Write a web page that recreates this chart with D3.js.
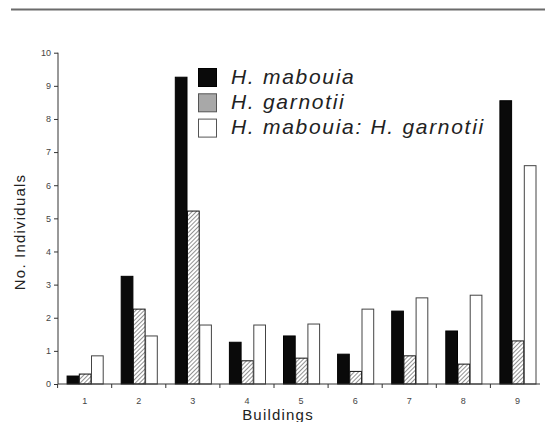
<!DOCTYPE html>
<html><head><meta charset="utf-8">
<script src="https://cdn.jsdelivr.net/npm/d3@7"></script>
<style>body{margin:0;background:#fff}svg{display:block}</style>
</head><body><svg id="c" width="545" height="422"></svg>
<script>
const buildings = ["1","2","3","4","5","6","7","8","9"];
const seriesNames = ["H. mabouia","H. garnotii","H. mabouia: H. garnotii"];
const mabouia = [0.24,3.25,9.26,1.26,1.45,0.90,2.20,1.60,8.55];
const garnotii = [0.30,2.26,5.22,0.70,0.78,0.38,0.85,0.60,1.30];
const ratio = [0.85,1.45,1.78,1.78,1.81,2.26,2.60,2.68,6.59];
const yTicks = [0,1,2,3,4,5,6,7,8,9,10];

const svg = d3.select("#c");
const font = "'Liberation Sans', Arial, sans-serif";
const defs = svg.append("defs");
const pat = defs.append("pattern").attr("id","hatch").attr("patternUnits","userSpaceOnUse")
  .attr("width",3).attr("height",3).attr("patternTransform","rotate(45)");
pat.append("rect").attr("width",3).attr("height",3).attr("fill","#fff");
pat.append("line").attr("x1",0).attr("y1",0).attr("x2",0).attr("y2",3).attr("stroke","#555").attr("stroke-width",1.3);

// top rule
svg.append("line").attr("x1",11).attr("x2",545).attr("y1",9.5).attr("y2",9.5).attr("stroke","#6b6b6b").attr("stroke-width",2);

const x0 = d3.scaleBand().domain(buildings).range([57.6,544.5]).paddingInner(0).paddingOuter(0);
const x1 = d3.scaleBand().domain([0,1,2]).range([9,45.6]);
const y = d3.scaleLinear().domain([0,10]).range([384,52.7]);

const series = [
  {vals:mabouia, fill:"#0a0a0a", stroke:"#000"},
  {vals:garnotii, fill:"url(#hatch)", stroke:"#111"},
  {vals:ratio, fill:"#fff", stroke:"#444"}
];
series.forEach((s,si)=>{
  svg.append("g").selectAll("rect").data(s.vals).join("rect")
    .attr("x",(d,i)=>x0(buildings[i])+x1(si)+0.5)
    .attr("width",x1.bandwidth()-0.5)
    .attr("y",d=>y(d))
    .attr("height",d=>y(0)-y(d))
    .attr("fill",s.fill).attr("stroke",s.stroke).attr("stroke-width",1);
});

// y axis
const ya = svg.append("g").attr("transform","translate(58,0)")
  .call(d3.axisLeft(y).tickValues(yTicks).tickSize(4).tickPadding(3));
ya.select(".domain").attr("stroke","#333").attr("d","M0,"+y(10)+"V"+y(0));
ya.selectAll(".tick line").attr("stroke","#333");
ya.selectAll("text").attr("font-family",font).attr("font-size",9).attr("fill","#444");

// x axis
const xa = svg.append("g").attr("transform","translate(0,384)");
xa.append("line").attr("x1",58).attr("x2",540).attr("stroke","#333");
xa.selectAll(".tk").data(buildings).join("line")
  .attr("x1",d=>x0(d)).attr("x2",d=>x0(d)).attr("y1",0).attr("y2",4).attr("stroke","#333");
xa.selectAll(".lb").data(buildings).join("text")
  .attr("x",d=>x0(d)+x0.bandwidth()/2).attr("y",20)
  .attr("text-anchor","middle").attr("font-family",font).attr("font-size",9).attr("fill","#444")
  .text(d=>d);

svg.append("text").attr("x",278).attr("y",420).attr("text-anchor","middle")
  .attr("font-family",font).attr("font-size",15).attr("letter-spacing",1.2).attr("fill","#222").text("Buildings");
svg.append("text").attr("transform","translate(25,232) rotate(-90)").attr("text-anchor","middle")
  .attr("font-family",font).attr("font-size",15).attr("letter-spacing",1.2).attr("fill","#222").text("No. Individuals");

// legend
const legFills = ["#0a0a0a","#a8a8a8","#fff"];
const leg = svg.append("g");
seriesNames.forEach((n,i)=>{
  const yy = 68 + i*25.3;
  leg.append("rect").attr("x",198.5).attr("y",yy+0.5).attr("width",18).attr("height",18)
    .attr("fill",legFills[i]).attr("stroke",i===0?"#000":"#555").attr("stroke-width",1);
  leg.append("text").attr("x",231).attr("y",yy+15.5).attr("font-family",font)
    .attr("font-style","italic").attr("font-size",21).attr("letter-spacing",1.7).attr("fill","#222").text(n);
});
</script></body></html>
